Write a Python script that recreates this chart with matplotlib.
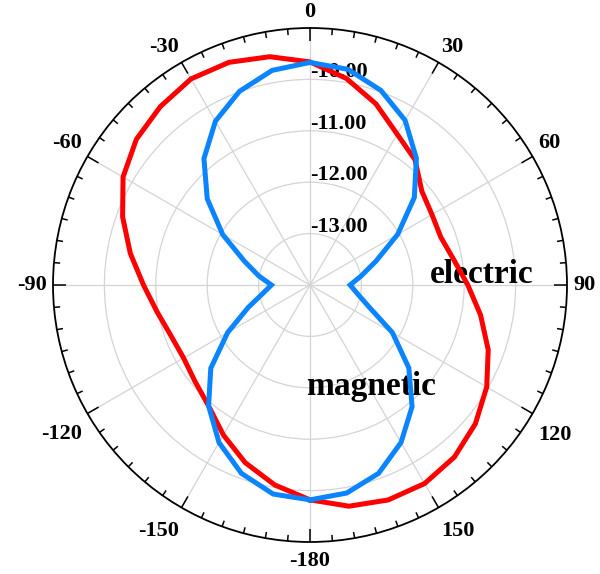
import numpy as np
import matplotlib
matplotlib.use('Agg')
from matplotlib import pyplot as plt

# angles in degrees, clockwise from top
ANGLES = [-180, -170, -160, -150, -140, -130, -120, -110, -100, -90,
          -80, -70, -60, -50, -40, -30, -20, -10, 0,
          10, 20, 30, 40, 50, 60, 70, 80, 90,
          100, 110, 120, 130, 140, 150, 160, 170, 180]

ELECTRIC = [-9.82, -10.05, -10.32, -10.63, -10.93, -11.08, -11.16, -11.12, -10.98, -10.76,
            -10.45, -10.12, -9.80, -9.59, -9.47, -9.37, -9.39, -9.49, -9.66,
            -9.92, -10.25, -10.61, -10.82, -11.16, -11.26, -11.29, -11.16, -10.93,
            -10.63, -10.31, -10.03, -9.80, -9.63, -9.54, -9.55, -9.63, -9.82]

MAGNETIC = [-9.82, -9.87, -10.10, -10.46, -10.93, -11.48, -12.15, -12.72, -13.07, -13.25,
            -12.99, -12.64, -12.04, -11.39, -10.79, -10.32, -9.99, -9.76, -9.67,
            -9.74, -9.97, -10.30, -10.78, -11.35, -12.03, -12.63, -12.99, -13.22,
            -13.07, -12.79, -12.15, -11.49, -10.91, -10.46, -10.10, -9.89, -9.82]

RTICKS = [-13, -12, -11, -10]
RMIN, RMAX = -14, -9
THETA_TICKS = [0, 30, 60, 90, 120, 150, 180, -150, -120, -90, -60, -30]

FONT = 'Liberation Serif'

fig = plt.figure(figsize=(6.0, 5.74), dpi=100)
ax = fig.add_axes([53 / 600, 32 / 574, 514 / 600, 514 / 574], projection='polar')
ax.set_theta_zero_location('N')
ax.set_theta_direction(-1)
ax.set_ylim(RMIN, RMAX)

# grid
ax.set_xticks(np.deg2rad(np.arange(0, 360, 30)))
ax.set_xticklabels([])
ax.set_yticks(RTICKS)
ax.set_yticklabels([])
ax.grid(True, which='major', color='#d4d4d4', lw=0.9)
ax.tick_params(length=0)
ax.spines['polar'].set_linewidth(1.3)

# inward ticks on the outer ring (major every 30, minor every 5)
for a in range(0, 360, 5):
    t = np.deg2rad(a)
    ln = 0.25 if a % 30 == 0 else 0.12
    ax.plot([t, t], [RMAX - ln, RMAX], color='black', lw=1.1, zorder=5,
            solid_capstyle='butt', clip_on=False)

th = np.deg2rad(ANGLES)
ax.plot(th, ELECTRIC, color='#ff0000', lw=3.6, zorder=4, solid_joinstyle='miter')
ax.plot(th, MAGNETIC, color='#0a84ff', lw=3.6, zorder=4, solid_joinstyle='miter')

# angle labels outside the circle
for a in THETA_TICKS:
    t = np.deg2rad(a)
    dx = 6 * np.sin(t)
    dy = 6 * np.cos(t)
    if a == 180:
        dy -= 3
    elif abs(a) > 90:
        dy -= 8
    if a in (0, 180):
        ha = 'center'
    elif a > 0:
        ha = 'left'
    else:
        ha = 'right'
    if abs(a) < 90:
        va = 'bottom'
    elif abs(a) == 90:
        va = 'center'
    else:
        va = 'top'
    lab = '-180' if a == 180 else str(a)
    ax.annotate(lab, xy=(t, RMAX), xytext=(dx, dy), textcoords='offset pixels',
                ha=ha, va=va, fontsize=16, fontweight='bold', family=FONT,
                annotation_clip=False)

# radial labels
for r in RTICKS:
    ax.annotate('%.2f' % r, xy=(0, r), xytext=(0, 2), textcoords='offset pixels',
                ha='left', va='baseline', fontsize=16, fontweight='bold',
                family=FONT, zorder=3)

ax.text(430 / 600, 1 - 283 / 574, 'electric', transform=fig.transFigure,
        ha='left', va='baseline', fontsize=24, fontweight='bold', family=FONT, zorder=3)
ax.text(306 / 600, 1 - 395 / 574, 'magnetic', transform=fig.transFigure,
        ha='left', va='baseline', fontsize=24, fontweight='bold', family=FONT, zorder=3)

fig.savefig('out.png', dpi=100)
